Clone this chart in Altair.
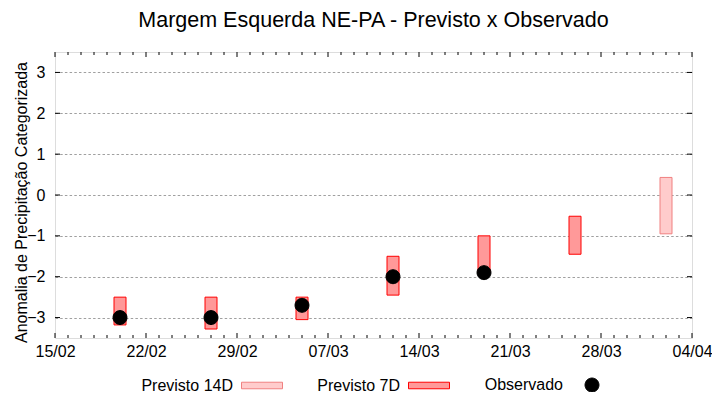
import altair as alt
import pandas as pd

title = "Margem Esquerda NE-PA - Previsto x Observado"
y_title = "Anomalia de Precipitação Categorizada"
series = ["Previsto 14D", "Previsto 7D", "Observado"]
fills = ["#ffcccc", "#ff9999", "#000000"]
strokes = ["#f08080", "#ff0000", "#000000"]

dates_7d = ["2024-02-20", "2024-02-27", "2024-03-05", "2024-03-12", "2024-03-19", "2024-03-26"]
low_7d = [-3.18, -3.28, -3.05, -2.45, -1.9, -1.45]
high_7d = [-2.5, -2.5, -2.5, -1.5, -1.0, -0.52]

dates_14d = ["2024-04-02"]
low_14d = [-0.95]
high_14d = [0.43]

dates_obs = ["2024-02-20", "2024-02-27", "2024-03-05", "2024-03-12", "2024-03-19"]
obs = [-3.0, -3.0, -2.7, -2.0, -1.9]

x_ticks = ["2024-02-15", "2024-02-22", "2024-02-29", "2024-03-07",
           "2024-03-14", "2024-03-21", "2024-03-28", "2024-04-04"]
y_ticks = [-3, -2, -1, 0, 1, 2, 3]

W, H = 637, 286
FONT = "Liberation Sans"
SYM = 1681  # legend/point symbol size (path units scaled by sqrt(size)/2)


def dt(s):
    y, m, d = (int(p) for p in s.split("-"))
    return alt.DateTime(year=y, month=m, date=d, utc=True)


bars = pd.DataFrame({
    "date": dates_14d + dates_7d,
    "low": low_14d + low_7d,
    "high": high_14d + high_7d,
    "serie": ["Previsto 14D"] * len(dates_14d) + ["Previsto 7D"] * len(dates_7d),
})
points = pd.DataFrame({"date": dates_obs, "value": obs, "serie": ["Observado"] * len(obs)})

days = pd.date_range(x_ticks[0], x_ticks[-1], freq="D").strftime("%Y-%m-%d").tolist()
major_df = pd.DataFrame({"day": x_ticks})
minor_df = pd.DataFrame({"day": [d for d in days if d not in x_ticks]})
yticks_df = pd.DataFrame({"v": y_ticks})

xscale = alt.Scale(type="utc", domain=[dt(x_ticks[0]), dt(x_ticks[-1])], nice=False, padding=0)
yscale = alt.Scale(domain=[-3.5, 3.5], nice=False, zero=False, padding=0)

leg = alt.Legend(
    title=None, orient="none", legendX=186, legendY=312, direction="horizontal",
    labelFontSize=16, labelFont=FONT, labelColor="black", labelAlign="right",
    labelOffset={"expr": "-50"}, columnPadding=32, symbolStrokeWidth=1, symbolSize=SYM,
)
fill_scale = alt.Scale(domain=series, range=fills)
stroke_scale = alt.Scale(domain=series, range=strokes)
rect_path = "M-1,-0.16H1V0.16H-1Z"
circ_path = "M-0.34,0A0.34,0.34 0 1,0 0.34,0A0.34,0.34 0 1,0 -0.34,0Z"
shape_scale = alt.Scale(domain=series, range=[rect_path, rect_path, circ_path])

xaxis = alt.Axis(
    values=[dt(s) for s in x_ticks], labelExpr="utcFormat(datum.value, '%d/%m')",
    ticks=False, domain=False, grid=False, labelPadding=5, labelFontSize=16,
    labelFont=FONT, labelColor="black", title=None, labelFlush=False, labelOverlap=False,
)
yaxis = alt.Axis(
    values=y_ticks, ticks=False, domain=False, grid=True, gridColor="#a0a0a0",
    gridDash=[2.5, 2.2], gridWidth=1, labelPadding=10, labelFontSize=16, labelFont=FONT,
    labelColor="black", title=y_title, titleFont=FONT, titleFontSize=16,
    titleFontWeight="normal", titleColor="black", titleX=-34, titleY=150,
    titleBaseline="middle", titleAngle=270,
)

bar_layer = alt.Chart(bars).mark_bar(size=12, strokeWidth=1).encode(
    x=alt.X("date:T", scale=xscale, axis=xaxis),
    y=alt.Y("low:Q", scale=yscale, axis=yaxis),
    y2="high:Q",
    fill=alt.Fill("serie:N", scale=fill_scale, legend=leg),
    stroke=alt.Stroke("serie:N", scale=stroke_scale, legend=leg),
)

point_layer = alt.Chart(points).mark_point(filled=True, opacity=1, strokeWidth=1, size=SYM).encode(
    x=alt.X("date:T"),
    y=alt.Y("value:Q"),
    fill=alt.Fill("serie:N", scale=fill_scale, legend=leg),
    stroke=alt.Stroke("serie:N", scale=stroke_scale, legend=leg),
    shape=alt.Shape("serie:N", scale=shape_scale, legend=leg),
)


def xticks(df, y0, y1):
    return alt.Chart(df).mark_rule(color="black", strokeWidth=1).encode(
        x=alt.X("day:T"), y=alt.value(y0), y2=alt.value(y1),
    )


tick_layers = [
    xticks(major_df, H, H - 5), xticks(minor_df, H, H - 3),
    xticks(major_df, 0, 5), xticks(minor_df, 0, 3),
]
yt_left = alt.Chart(yticks_df).mark_rule(color="black", strokeWidth=1).encode(
    y=alt.Y("v:Q"), x=alt.value(0), x2=alt.value(5),
)
yt_right = alt.Chart(yticks_df).mark_rule(color="black", strokeWidth=1).encode(
    y=alt.Y("v:Q"), x=alt.value(W), x2=alt.value(W - 5),
)

chart = alt.layer(bar_layer, point_layer, *tick_layers, yt_left, yt_right).properties(
    width=W, height=H,
    title=alt.TitleParams(title, font=FONT, fontSize=21.5, fontWeight="normal", color="black",
                          anchor="middle", offset=20),
    padding={"left": 47, "top": 44, "right": 20, "bottom": 54},
    autosize=alt.AutoSizeParams(type="none"),
).configure_view(stroke="black", strokeWidth=1).configure(background="white")

chart.save("out.html", embed_options={"renderer": "svg", "actions": False})
